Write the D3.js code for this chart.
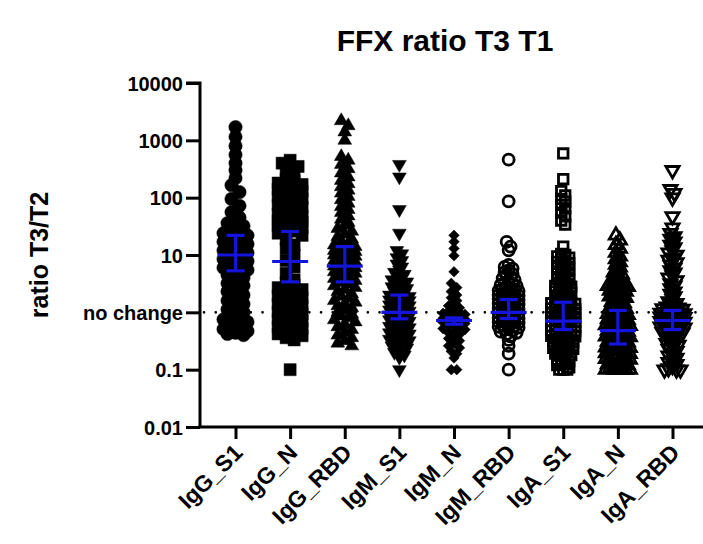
<!DOCTYPE html>
<html>
<head>
<meta charset="utf-8">
<script src="https://cdn.jsdelivr.net/npm/d3@7"></script>
<style>
  body { margin: 0; background: #fff; }
  text { font-family: "Liberation Sans", Arial, sans-serif; font-weight: bold; fill: #000; }
</style>
</head>
<body>
<svg id="chart" width="703" height="544"></svg>
<script>
// ---- data: FFX ratio T3/T1 per antibody / antigen ----
const categories = ["IgG_S1", "IgG_N", "IgG_RBD", "IgM_S1", "IgM_N", "IgM_RBD", "IgA_S1", "IgA_N", "IgA_RBD"];

const igG_S1 = [1700, 1150, 800, 560, 400, 300, 220, 165, 125, 95, 72, 56, 45, 40, 36, 32, 29, 26, 24, 22, 20, 18.5, 17, 15.5, 14, 13, 12, 11, 10, 9.2, 8.5, 7.8, 7.1, 6.5, 6, 5.5, 5, 4.5, 4, 3.6, 3.2, 2.9, 2.6, 2.3, 2, 1.8, 1.6, 1.4, 1.25, 1.12, 1.0, 0.9, 0.82, 0.75, 0.68, 0.62, 0.56, 0.51, 0.47, 0.44, 0.42, 0.4];
const igG_N = [450, 400, 350, 290, 240, 210, 195, 180, 170, 160, 150, 140, 130, 120, 112, 104, 96, 88, 80, 74, 68, 62, 57, 52, 48, 45, 42, 40, 38, 36, 34, 32, 30, 28, 26, 24, 22, 19, 15, 13, 10, 8, 6.2, 4.8, 3.7, 3.3, 3, 2.7, 2.5, 2.3, 2.1, 1.95, 1.8, 1.65, 1.5, 1.4, 1.3, 1.2, 1.1, 1.02, 0.95, 0.88, 0.82, 0.76, 0.7, 0.65, 0.6, 0.56, 0.52, 0.48, 0.45, 0.42, 0.39, 0.36, 0.33, 0.1];
const igG_RBD = [2200, 1800, 1400, 1000, 520, 450, 380, 320, 270, 230, 200, 175, 155, 135, 120, 105, 92, 80, 70, 62, 55, 48, 42, 37, 33, 29, 26, 23, 21, 19, 17.5, 16, 15, 14, 13, 12.5, 12, 11.5, 11, 10.5, 10, 9.5, 9, 8.5, 8, 7.6, 7.2, 6.8, 6.4, 6, 5.7, 5.4, 5.1, 4.8, 4.5, 4.2, 3.9, 3.6, 3.3, 3.1, 2.9, 2.7, 2.5, 2.3, 2.1, 1.9, 1.75, 1.6, 1.5, 1.4, 1.3, 1.2, 1.1, 1.0, 0.93, 0.86, 0.8, 0.74, 0.68, 0.62, 0.56, 0.5, 0.45, 0.4, 0.36, 0.32, 0.29, 0.26];
const igM_S1 = [380, 230, 62, 24, 12, 10.5, 9, 8, 7, 6.2, 5.5, 5, 4.6, 4.3, 4, 3.7, 3.4, 3.2, 3, 2.8, 2.6, 2.4, 2.3, 2.15, 2, 1.9, 1.85, 1.8, 1.7, 1.65, 1.6, 1.5, 1.45, 1.4, 1.35, 1.3, 1.25, 1.2, 1.15, 1.1, 1.05, 1, 0.97, 0.93, 0.9, 0.86, 0.83, 0.8, 0.77, 0.74, 0.7, 0.67, 0.63, 0.6, 0.57, 0.54, 0.5, 0.48, 0.46, 0.44, 0.42, 0.4, 0.38, 0.36, 0.34, 0.32, 0.3, 0.28, 0.26, 0.24, 0.22, 0.2, 0.18, 0.165, 0.1];
const igM_N = [22, 17, 13, 9.7, 5.1, 3.2, 2.7, 2.3, 2, 1.8, 1.6, 1.45, 1.3, 1.2, 1.1, 1.05, 1, 0.96, 0.92, 0.88, 0.85, 0.82, 0.79, 0.76, 0.74, 0.72, 0.7, 0.67, 0.64, 0.61, 0.58, 0.55, 0.52, 0.5, 0.47, 0.44, 0.41, 0.38, 0.35, 0.32, 0.29, 0.26, 0.24, 0.21, 0.19, 0.16, 0.1, 0.1];
const igM_RBD = [460, 86, 17, 14, 12, 6.7, 6.2, 5.8, 5.4, 5.0, 4.7, 4.4, 4.1, 3.9, 3.7, 3.5, 3.3, 3.1, 3.0, 2.9, 2.8, 2.7, 2.6, 2.5, 2.4, 2.35, 2.3, 2.2, 2.15, 2.1, 2.0, 1.95, 1.9, 1.85, 1.8, 1.75, 1.7, 1.65, 1.6, 1.55, 1.5, 1.46, 1.42, 1.38, 1.34, 1.3, 1.26, 1.22, 1.18, 1.14, 1.1, 1.07, 1.04, 1.01, 0.98, 0.95, 0.92, 0.89, 0.86, 0.83, 0.8, 0.78, 0.76, 0.74, 0.72, 0.7, 0.68, 0.66, 0.64, 0.62, 0.6, 0.58, 0.56, 0.54, 0.52, 0.5, 0.48, 0.46, 0.44, 0.42, 0.38, 0.33, 0.26, 0.19, 0.1];
const igA_S1 = [590, 210, 130, 110, 95, 85, 75, 65, 55, 47, 40, 34, 14, 10.5, 10, 9.5, 9, 8.5, 8, 7.6, 7.2, 6.8, 6.4, 6, 5.7, 5.4, 5.1, 4.8, 4.5, 4.2, 4, 3.8, 3.6, 3.4, 3.2, 3, 2.9, 2.8, 2.6, 2.5, 2.4, 2.3, 2.2, 2.1, 2, 1.9, 1.8, 1.7, 1.6, 1.56, 1.52, 1.48, 1.44, 1.4, 1.36, 1.32, 1.28, 1.24, 1.2, 1.17, 1.14, 1.11, 1.08, 1.05, 1.02, 1, 0.98, 0.96, 0.94, 0.92, 0.9, 0.88, 0.86, 0.84, 0.82, 0.8, 0.78, 0.76, 0.74, 0.72, 0.7, 0.68, 0.66, 0.64, 0.62, 0.6, 0.58, 0.57, 0.56, 0.55, 0.54, 0.52, 0.5, 0.49, 0.48, 0.47, 0.46, 0.44, 0.43, 0.42, 0.4, 0.39, 0.38, 0.36, 0.35, 0.34, 0.32, 0.31, 0.3, 0.28, 0.27, 0.26, 0.25, 0.24, 0.23, 0.22, 0.21, 0.2, 0.19, 0.18, 0.17, 0.16, 0.15, 0.14, 0.13, 0.125, 0.12, 0.11, 0.1, 0.1, 0.1];
const igA_N = [22, 18, 15, 13, 11, 9.5, 8.5, 7.5, 6.8, 6.1, 5.5, 5, 4.6, 4.2, 3.9, 3.6, 3.4, 3.2, 3.1, 3.0, 2.9, 2.8, 2.7, 2.6, 2.5, 2.4, 2.3, 2.2, 2.1, 2.0, 1.9, 1.8, 1.7, 1.6, 1.52, 1.45, 1.38, 1.32, 1.26, 1.2, 1.15, 1.1, 1.05, 1.0, 0.97, 0.94, 0.91, 0.88, 0.85, 0.82, 0.79, 0.76, 0.73, 0.7, 0.68, 0.66, 0.64, 0.62, 0.6, 0.58, 0.56, 0.54, 0.52, 0.5, 0.48, 0.46, 0.45, 0.44, 0.42, 0.41, 0.4, 0.38, 0.37, 0.36, 0.34, 0.33, 0.32, 0.31, 0.3, 0.29, 0.28, 0.27, 0.26, 0.25, 0.245, 0.24, 0.23, 0.22, 0.215, 0.21, 0.2, 0.195, 0.19, 0.18, 0.175, 0.17, 0.165, 0.16, 0.155, 0.15, 0.145, 0.14, 0.135, 0.13, 0.125, 0.12, 0.115, 0.11, 0.107, 0.104, 0.1, 0.1, 0.1, 0.1, 0.1, 0.1];
const igA_RBD = [300, 140, 120, 100, 47, 30, 24, 21, 19, 17, 15, 13.5, 12, 11, 10, 9, 8.2, 7.4, 6.7, 6, 5.4, 4.9, 4.4, 4, 3.6, 3.2, 2.9, 2.6, 2.3, 2.1, 1.9, 1.7, 1.55, 1.45, 1.38, 1.32, 1.26, 1.21, 1.17, 1.14, 1.11, 1.08, 1.05, 1.02, 1.0, 0.98, 0.96, 0.94, 0.92, 0.9, 0.88, 0.86, 0.84, 0.82, 0.8, 0.78, 0.76, 0.74, 0.72, 0.7, 0.68, 0.66, 0.64, 0.62, 0.6, 0.58, 0.56, 0.54, 0.52, 0.5, 0.48, 0.46, 0.45, 0.44, 0.42, 0.4, 0.37, 0.35, 0.33, 0.31, 0.29, 0.27, 0.25, 0.23, 0.21, 0.19, 0.175, 0.16, 0.145, 0.135, 0.125, 0.115, 0.105, 0.1, 0.1, 0.1];

// median with interquartile range, per category
const medians = [10, 7.7, 6.4, 1.0, 0.72, 1.0, 0.70, 0.48, 0.72];
const q1s     = [5.3, 3.4, 3.4, 0.77, 0.62, 0.78, 0.5, 0.28, 0.5];
const q3s     = [22, 25.7, 14, 2.0, 0.80, 1.67, 1.5, 1.08, 1.08];

const yTickValues = [0.01, 0.1, 1, 10, 100, 1000, 10000];
const yTickLabels = ["0.01", "0.1", "no change", "10", "100", "1000", "10000"];

const series = [igG_S1, igG_N, igG_RBD, igM_S1, igM_N, igM_RBD, igA_S1, igA_N, igA_RBD];

// marker look for each column
const shapes = ["circle", "square", "triangle", "triangleDown", "diamond", "circle", "square", "triangle", "triangleDown"];
const filled = [true, true, true, true, true, false, false, false, false];

// ---- layout ----
const svg = d3.select("#chart");
const plotLeft = 200, plotRight = 708, plotTop = 83, plotBottom = 427;

const x = d3.scalePoint().domain(categories).range([plotLeft, plotRight]).padding(0.65);
const y = d3.scaleLog().domain([0.01, 10000]).range([plotBottom, plotTop]);

// title
svg.append("text")
  .attr("x", 445).attr("y", 51)
  .attr("text-anchor", "middle")
  .style("font-size", "30px")
  .text("FFX ratio T3 T1");

// y axis title
svg.append("text")
  .attr("transform", `translate(48,${(plotTop + plotBottom) / 2}) rotate(-90)`)
  .attr("text-anchor", "middle")
  .style("font-size", "25px")
  .text("ratio T3/T2");

// y axis
const yAxis = d3.axisLeft(y)
  .tickValues(yTickValues)
  .tickFormat((d, i) => yTickLabels[i])
  .tickSize(14)
  .tickPadding(3);
const gy = svg.append("g").attr("transform", `translate(${plotLeft},0)`).call(yAxis);
gy.attr("font-family", null).attr("font-size", null);
gy.select(".domain").attr("stroke-width", 3).attr("d", `M-14,${plotTop}H0V${plotBottom}`);
gy.selectAll(".tick line").attr("stroke-width", 3);
gy.selectAll(".tick text").style("font-size", "20px").attr("dy", "0.36em");

// x axis
const xAxis = d3.axisBottom(x).tickSize(12).tickSizeOuter(0);
const gx = svg.append("g").attr("transform", `translate(0,${plotBottom})`).call(xAxis);
gx.attr("font-family", null).attr("font-size", null);
gx.select(".domain").attr("stroke-width", 3).attr("d", `M${plotLeft - 1.5},0H${plotRight}`);
gx.selectAll(".tick line").attr("stroke-width", 3);
gx.selectAll(".tick text")
  .style("font-size", "23px")
  .attr("text-anchor", "end")
  .attr("dy", null)
  .attr("transform", "translate(8,27) rotate(-45)")
  .attr("y", 0).attr("x", 0);

// reference line at ratio 1
svg.append("line")
  .attr("x1", plotLeft + 4).attr("x2", plotRight)
  .attr("y1", y(1)).attr("y2", y(1))
  .attr("stroke", "#000")
  .attr("stroke-width", 2.6)
  .attr("stroke-linecap", "round")
  .attr("stroke-dasharray", "0.1 11.6");

// symbol paths
const symbolFor = {
  circle: (f) => d3.symbol().type(d3.symbolCircle).size(f ? 140 : 95)(),
  square: (f) => d3.symbol().type(d3.symbolSquare).size(f ? 145 : 90)(),
  triangle: (f) => d3.symbol().type(d3.symbolTriangle).size(f ? 82 : 75)(),
  triangleDown: (f) => d3.symbol().type(d3.symbolTriangle).size(f ? 82 : 75)(),
  diamond: (f) => d3.symbol().type(d3.symbolSquare).size(56)()
};
const rotateFor = { circle: 0, square: 0, triangle: 0, triangleDown: 180, diamond: 45 };

// rows of points spread sideways, centred on the column;
// a row closes when it spans rowH pixels or holds maxK points
function scatterLayout(values, step, rowH, maxK) {
  const pts = values.map(v => ({ v, py: y(v) })).sort((a, b) => a.py - b.py);
  const rows = [];
  let row = null;
  for (const p of pts) {
    if (!row || p.py - row.start >= rowH || row.items.length >= maxK) {
      row = { start: p.py, items: [] };
      rows.push(row);
    }
    row.items.push(p);
  }
  for (const r of rows) {
    const k = r.items.length;
    const slots = d3.range(k).map(i => (i - (k - 1) / 2) * step)
      .sort((a, b) => Math.abs(a) - Math.abs(b) || a - b);
    r.items.forEach((p, j) => { p.dx = slots[j]; });
  }
  return pts;
}

const steps = [8, 8, 7, 5, 5.5, 4, 4, 4, 4];
const rowHs = [7, 7, 6, 6, 5, 5, 5, 5, 5];
const maxKs = [4, 4, 4, 5, 5, 6, 7, 7, 7];

categories.forEach((c, i) => {
  const pts = scatterLayout(series[i], steps[i], rowHs[i], maxKs[i]);
  const path = symbolFor[shapes[i]](filled[i]);
  svg.append("g").selectAll("path")
    .data(pts)
    .join("path")
    .attr("d", path)
    .attr("transform", d => `translate(${x(c) + d.dx},${d.py}) rotate(${rotateFor[shapes[i]]})`)
    .attr("fill", filled[i] ? "#000" : "none")
    .attr("stroke", "#000")
    .attr("stroke-width", filled[i] ? 0.5 : 2.8);
});

// median + interquartile range bars
const blue = "#1414dc";
const eb = svg.append("g").attr("stroke", blue).attr("stroke-width", 3.2).attr("fill", "none");
categories.forEach((c, i) => {
  const cx = x(c);
  eb.append("line").attr("x1", cx - 18).attr("x2", cx + 18).attr("y1", y(medians[i])).attr("y2", y(medians[i]));
  eb.append("line").attr("x1", cx).attr("x2", cx).attr("y1", y(q1s[i])).attr("y2", y(q3s[i]));
  eb.append("line").attr("x1", cx - 9).attr("x2", cx + 9).attr("y1", y(q1s[i])).attr("y2", y(q1s[i]));
  eb.append("line").attr("x1", cx - 9).attr("x2", cx + 9).attr("y1", y(q3s[i])).attr("y2", y(q3s[i]));
});
</script>
</body>
</html>
